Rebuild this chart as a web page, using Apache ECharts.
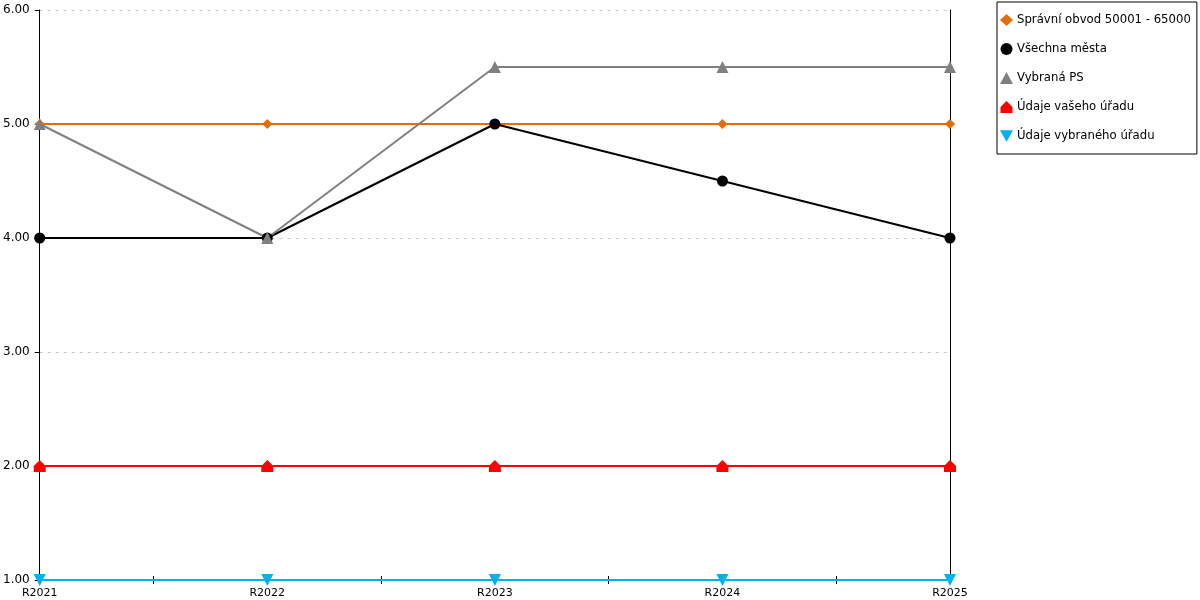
<!DOCTYPE html>
<html>
<head>
<meta charset="utf-8">
<script src="https://cdn.jsdelivr.net/npm/echarts@6/dist/echarts.min.js"></script>
<style>html,body{margin:0;padding:0;background:#fff}#c{width:1200px;height:600px}</style>
</head>
<body>
<div id="c"></div>
<script>
const categories = ['R2021', 'R2022', 'R2023', 'R2024', 'R2025'];
const spravniObvod = [5, 5, 5, 5, 5];
const vsechnaMesta = [4, 4, 5, 4.5, 4];
const vybranaPS = [5, 4, 5.5, 5.5, 5.5];
const vaseUrad = [2, 2, 2, 2, 2];
const vybranyUrad = [1, 1, 1, 1, 1];
const yTicks = { min: 1, max: 6, interval: 1 };

const FONT = 'DejaVu Sans';
const chart = echarts.init(document.getElementById('c'));
const housePath = 'path://M0,5 L5,0 L10,5 L10,10 L0,10 Z';
const downTri = 'path://M0,0 L10,0 L5,9 Z';

function line(name, data, color, symbol, size, extra) {
  return Object.assign({
    name, type: 'line', data, symbol, symbolSize: size,
    showSymbol: true,
    lineStyle: { color, width: 2 },
    itemStyle: { color },
    emphasis: { disabled: true },
    animation: false
  }, extra || {});
}

chart.setOption({
  animation: false,
  textStyle: { fontFamily: FONT },
  grid: { left: 39, right: 250, top: 10, bottom: 20, containLabel: false },
  legend: {
    orient: 'vertical',
    left: 997, top: 2,
    padding: [12, 6, 12, 3],
    itemGap: 17,
    itemWidth: 13, itemHeight: 12,
    borderColor: '#000', borderWidth: 1,
    textStyle: { fontFamily: FONT, fontSize: 11.7, color: '#000', padding: [0, 0, 0, -1] },
    data: [
      { name: 'Správní obvod 50001 - 65000', icon: 'diamond' },
      { name: 'Všechna města', icon: 'circle' },
      { name: 'Vybraná PS', icon: 'triangle' },
      { name: 'Údaje vašeho úřadu', icon: housePath },
      { name: 'Údaje vybraného úřadu', icon: downTri }
    ]
  },
  xAxis: [
    {
      type: 'category', data: categories, boundaryGap: false,
      axisLine: { lineStyle: { color: '#000', width: 1 } },
      axisTick: { show: false },
      axisLabel: { color: '#000', fontFamily: FONT, fontSize: 11, margin: 8 }
    },
    {
      type: 'category', data: ['', '', '', '', '', '', '', '', ''], boundaryGap: false,
      position: 'bottom', offset: 4,
      axisLine: { show: false },
      axisTick: { show: true, inside: true, length: 8, interval: (i) => i % 2 === 1, lineStyle: { color: '#000' } },
      axisLabel: { show: false }
    }
  ],
  yAxis: [
    {
      type: 'value', min: yTicks.min, max: yTicks.max, interval: yTicks.interval,
      axisLine: { show: true, lineStyle: { color: '#000', width: 1 } },
      axisTick: { show: true, length: 5, lineStyle: { color: '#000' } },
      axisLabel: { color: '#000', fontFamily: FONT, fontSize: 12, margin: 10, formatter: v => v.toFixed(2) },
      splitLine: { show: true, lineStyle: { color: '#c8c8c8', type: [3, 5], width: 1 } }
    },
    {
      type: 'value', min: yTicks.min, max: yTicks.max, interval: yTicks.interval, position: 'right',
      axisLine: { show: true, lineStyle: { color: '#000', width: 1 } },
      axisTick: { show: false }, axisLabel: { show: false }, splitLine: { show: false }
    }
  ],
  series: [
    line('Správní obvod 50001 - 65000', spravniObvod, '#E46C0A', 'diamond', 10),
    line('Všechna města', vsechnaMesta, '#000000', 'circle', 11),
    line('Vybraná PS', vybranaPS, '#808080', 'triangle', 12),
    line('Údaje vašeho úřadu', vaseUrad, '#FF0000', housePath, 12),
    line('Údaje vybraného úřadu', vybranyUrad, '#00B0F0', downTri, 12)
  ]
});
</script>
</body>
</html>
